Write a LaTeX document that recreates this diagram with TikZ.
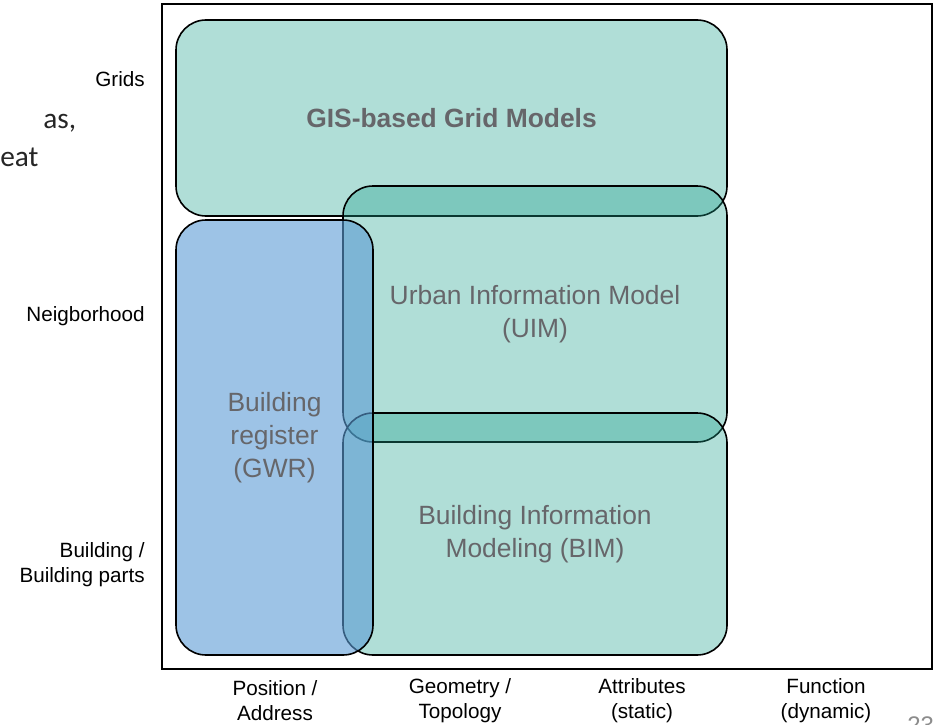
\documentclass[tikz,border=0pt]{standalone}
\usepackage{fontspec}
\setmainfont{Liberation Sans}
\newfontfamily\slidefont{Carlito}
\definecolor{tealc}{RGB}{30,160,140}
\definecolor{bluec}{RGB}{91,155,213}
\definecolor{labgray}{RGB}{102,102,106}
\definecolor{pagegray}{RGB}{140,140,140}
\begin{document}
\begin{tikzpicture}[x=0.75pt,y=-0.75pt,
  area/.style={draw=black, line width=1.2pt, rounded corners=22.5pt, inner sep=0pt,
    text=labgray, text opacity=1, align=center,
    font=\fontsize{19.8pt}{24.75pt}\selectfont},
  tealarea/.style={area, fill=tealc, fill opacity=0.35},
  bluearea/.style={area, fill=bluec, fill opacity=0.6},
  axislab/.style={inner sep=0pt, text=black, font=\fontsize{15.5pt}{18.75pt}\selectfont},
  ylab/.style={axislab, anchor=east, align=right},
  xlab/.style={axislab, align=center},
  slidetext/.style={inner sep=0pt, anchor=base west, text=black!85,
    font=\slidefont\fontsize{22pt}{26.4pt}\selectfont}]
\useasboundingbox (0,0) rectangle (934,724);
\clip (0,0) rectangle (934,724);
% slide fragments
\node[slidetext] (frag1) at (43,128) {as,};
\node[slidetext] (frag2) at (0,166) {eat};
% frame
\node[draw=black, line width=1.3pt, inner sep=0pt, minimum width=577.5pt,
  minimum height=498.75pt] (frame) at (547,336.5) {};
% areas
\node[tealarea, minimum width=413.25pt, minimum height=147pt,
  font=\bfseries\fontsize{19.8pt}{24.75pt}\selectfont] (gis) at (451.5,118) {GIS-based Grid Models};
\node[tealarea, minimum width=288pt, minimum height=192pt] (uim) at (535,314)
  {Urban Information Model\\(UIM)};
\node[tealarea, minimum width=288pt, minimum height=181.5pt] (bim) at (535,534)
  {Building Information\\Modeling (BIM)};
\node[bluearea, minimum width=147.75pt, minimum height=326.25pt] (gwr) at (274.5,437.5)
  {Building\\register\\(GWR)};
% axis labels
\node[ylab] (grids) at (145,79) {Grids};
\node[ylab] (neigh) at (145,316) {Neigborhood};
\node[ylab] (bldg) at (145,565) {Building /\\Building parts};
\node[xlab] (pos) at (275,700.5) {Position /\\Address};
\node[xlab] (geo) at (460,700.5) {Geometry /\\Topology};
\node[xlab] (att) at (642,700.5) {Attributes\\(static)};
\node[xlab] (fun) at (826,700.5) {Function\\(dynamic)};
% page number (cut off at the lower edge, as in the reference)
\node[inner sep=0pt, anchor=base west, text=pagegray,
  font=\fontsize{18pt}{20pt}\selectfont] (pnum) at (907,733) {23};
\end{tikzpicture}
\end{document}
